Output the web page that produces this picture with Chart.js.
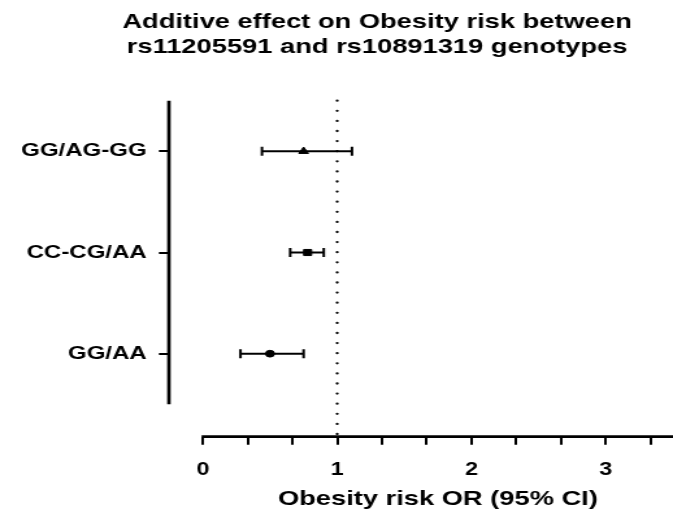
<!DOCTYPE html>
<html>
<head>
<meta charset="utf-8">
<script src="https://cdn.jsdelivr.net/npm/chart.js@4/dist/chart.umd.min.js"></script>
<style>
  html, body { margin: 0; padding: 0; background: #fff; overflow: hidden; }
  /* the reference is a horizontally stretched export, so draw narrow and stretch */
  #wrap { position: absolute; left: 0; top: 0; width: 518px; height: 522px;
          transform: scaleX(1.2992); transform-origin: 0 0; }
  #chart { display: block; width: 518px; height: 522px; }
</style>
</head>
<body>
<div id="wrap"><canvas id="chart" width="518" height="522"></canvas></div>
<script>
// data, rows listed top to bottom
const categories = ['GG/AG-GG', 'CC-CG/AA', 'GG/AA'];
const oddsRatios = [0.75, 0.78, 0.50];
const ciLower = [0.44, 0.65, 0.28];
const ciUpper = [1.11, 0.90, 0.75];
const markerStyles = ['triangle', 'rect', 'circle'];
const xTickLabels = ['0', '1', '2', '3'];
const refValue = 1;

const FONT = 'Liberation Sans, Arial, sans-serif';
const Y_MIN = -0.82, Y_MAX = 2.5;

// row index -> y value (top row has the largest value)
const rowY = i => categories.length - 1 - i;

const datasets = [];
categories.forEach((cat, i) => {
    datasets.push({
        label: cat,
        data: [{x: oddsRatios[i], y: rowY(i)}],
        pointStyle: markerStyles[i],
        pointRadius: markerStyles[i] === 'circle' ? 3.4 : 4.3,
        pointBackgroundColor: '#000',
        pointBorderColor: '#000',
        pointBorderWidth: 1,
        showLine: false,
        order: 0
    });
    datasets.push({
        label: cat + ' CI',
        data: [{x: ciLower[i], y: rowY(i)}, {x: ciUpper[i], y: rowY(i)}],
        showLine: true,
        borderColor: '#000',
        borderWidth: 2,
        pointStyle: 'line',
        pointRotation: 90,
        pointRadius: 4.5,
        pointBorderWidth: 2,
        pointBorderColor: '#000',
        order: 1
    });
});
// dotted reference line at OR = 1
datasets.push({
    label: 'ref',
    data: [{x: refValue, y: Y_MAX}, {x: refValue, y: Y_MIN}],
    showLine: true,
    borderColor: '#000',
    borderWidth: 2.3,
    borderDash: [0, 10.1],
    borderCapStyle: 'round',
    pointRadius: 0,
    clip: false,
    order: 2
});

// axis lines, chart title and x title
const decorPlugin = {
    id: 'decorPlugin',
    afterDraw(chart) {
        const ctx = chart.ctx;
        const xs = chart.scales.x, ys = chart.scales.y;
        ctx.save();
        ctx.strokeStyle = '#000';
        ctx.lineCap = 'butt';

        // y axis line, only over the category band
        const yx = xs.getPixelForValue(-0.25);
        ctx.lineWidth = 2.7;
        ctx.beginPath();
        ctx.moveTo(yx - 0.3, ys.getPixelForValue(2.5));
        ctx.lineTo(yx - 0.3, ys.getPixelForValue(-0.5));
        ctx.stroke();

        // x axis line, from 0 to the end
        const xy = chart.chartArea.bottom;
        ctx.lineWidth = 2.7;
        ctx.beginPath();
        ctx.moveTo(xs.getPixelForValue(0) - 1, xy);
        ctx.lineTo(xs.getPixelForValue(3.5), xy);
        ctx.stroke();

        ctx.fillStyle = '#000';
        ctx.textAlign = 'center';
        ctx.textBaseline = 'alphabetic';
        ctx.font = 'bold 21px ' + FONT;
        ctx.fillText('Additive effect on Obesity risk between', 290.2, 28.3);
        ctx.fillText('rs11205591 and rs10891319 genotypes', 290.2, 52.5);

        const cx = (xs.getPixelForValue(0) + xs.getPixelForValue(3.5)) / 2;
        ctx.fillText('Obesity risk OR (95% CI)', cx, 505);
        ctx.restore();
    }
};

new Chart(document.getElementById('chart'), {
    type: 'scatter',
    data: {datasets: datasets},
    options: {
        responsive: false,
        maintainAspectRatio: false,
        animation: false,
        layout: {autoPadding: false, padding: {top: 100.7, right: 0, bottom: 0, left: 0}},
        plugins: {legend: {display: false}, tooltip: {enabled: false}},
        scales: {
            x: {
                type: 'linear',
                position: 'bottom',
                min: -0.25,
                max: 3.5,
                afterBuildTicks(scale) {
                    const t = [];
                    for (let k = 0; k <= 10; k++) t.push({value: k / 3});
                    scale.ticks = t;
                },
                afterFit(scale) {
                    scale.height = 522 - 436.7;
                    scale.paddingLeft = 0;
                    scale.paddingRight = 0;
                },
                border: {display: false},
                grid: {drawOnChartArea: false, drawTicks: true, tickLength: 8, color: '#000', lineWidth: 2},
                ticks: {
                    color: '#000',
                    padding: 14.5,
                    maxRotation: 0,
                    autoSkip: false,
                    font: {family: FONT, size: 18, weight: 'bold'},
                    callback(v) {
                        const r = Math.round(v);
                        return Math.abs(v - r) < 1e-6 ? xTickLabels[r] : '';
                    }
                }
            },
            y: {
                type: 'linear',
                position: 'left',
                min: Y_MIN,
                max: Y_MAX,
                afterBuildTicks(scale) {
                    scale.ticks = categories.map((c, i) => ({value: rowY(i)}));
                },
                afterFit(scale) {
                    scale.width = 130.3;
                    scale.paddingTop = 0;
                    scale.paddingBottom = 0;
                },
                border: {display: false},
                grid: {drawOnChartArea: false, drawTicks: true, tickLength: 8, color: '#000', lineWidth: 2},
                ticks: {
                    color: '#000',
                    padding: 9.4,
                    autoSkip: false,
                    font: {family: FONT, size: 18.5, weight: 'bold'},
                    callback(v) {
                        const i = categories.length - 1 - Math.round(v);
                        return categories[i] || '';
                    }
                }
            }
        }
    },
    plugins: [decorPlugin]
});
</script>
</body>
</html>
